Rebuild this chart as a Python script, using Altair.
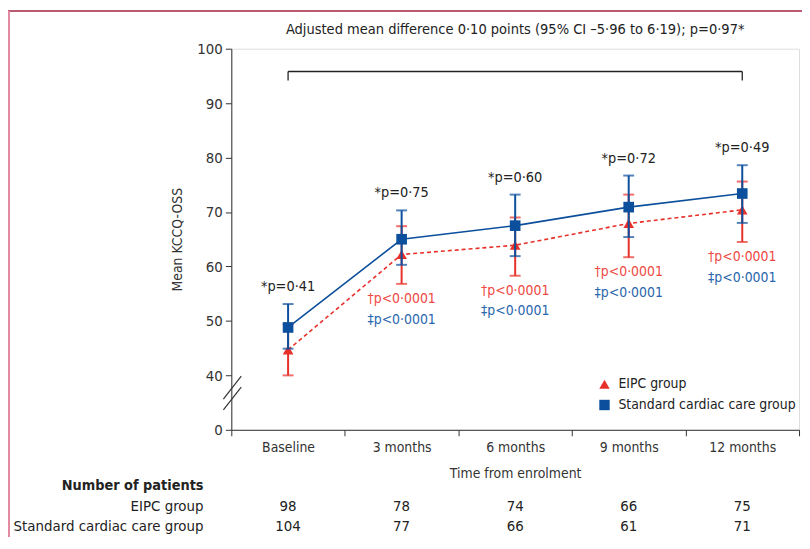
import altair as alt
import pandas as pd

categories = ["Baseline", "3 months", "6 months", "9 months", "12 months"]
groups = ["EIPC group", "Standard cardiac care group"]

eipc_mean = [44.7, 62.2, 63.9, 67.9, 70.4]
eipc_lo = [40.0, 56.8, 58.3, 61.7, 64.5]
eipc_hi = [49.4, 67.4, 69.0, 73.2, 75.6]

std_mean = [48.8, 65.0, 67.5, 70.9, 73.4]
std_lo = [44.9, 60.3, 61.9, 65.4, 68.0]
std_hi = [53.1, 70.3, 73.2, 76.7, 78.6]

p_between = ["*p=0·41", "*p=0·75", "*p=0·60", "*p=0·72", "*p=0·49"]
p_eipc = ["", "†p<0·0001", "†p<0·0001", "†p<0·0001", "†p<0·0001"]
p_std = ["", "‡p<0·0001", "‡p<0·0001", "‡p<0·0001", "‡p<0·0001"]

n_eipc = [98, 78, 74, 66, 75]
n_std = [104, 77, 66, 61, 71]

bracket_text = "Adjusted mean difference 0·10 points (95% CI –5·96 to 6·19); p=0·97*"

RED = "#e8302a"
BLUE = "#0c4f9c"
RED_TXT = "#ee4a44"
BLUE_TXT = "#2b67ad"
INK = "#333333"
FONT = "Liberation Sans Narrow, DejaVu Sans Condensed, Lato, sans-serif"

rows = []
for i, c in enumerate(categories):
    rows.append(dict(time=c, group=groups[0], mean=eipc_mean[i], lo=eipc_lo[i], hi=eipc_hi[i]))
    rows.append(dict(time=c, group=groups[1], mean=std_mean[i], lo=std_lo[i], hi=std_hi[i]))
df = pd.DataFrame(rows)
df_e = df[df.group == groups[0]]
df_s = df[df.group == groups[1]]

ann = pd.DataFrame(dict(time=categories, pb=p_between, pe=p_eipc, ps=p_std,
                        shi=std_hi, elo=eipc_lo, ne=n_eipc, ns=n_std))

xs = alt.X("time:N", sort=categories,
           scale=alt.Scale(domain=categories, paddingInner=0, paddingOuter=0),
           axis=alt.Axis(title="Time from enrolment", tickBand="extent", labelAngle=0,
                         labelFontSize=14, labelPadding=5, tickSize=6, titleFontSize=14,
                         titleFontWeight="normal", titlePadding=12, labelFont=FONT,
                         titleFont=FONT, domainColor=INK, tickColor=INK,
                         labelColor=INK, titleColor=INK, grid=False))
ys = alt.Y("mean:Q", scale=alt.Scale(domain=[30, 100], nice=False, zero=False),
           axis=alt.Axis(title="Mean KCCQ-OSS", values=[30, 40, 50, 60, 70, 80, 90, 100],
                         labelExpr="datum.value == 30 ? '0' : datum.label",
                         labelFontSize=15, tickSize=6, labelPadding=3, titleFontSize=14,
                         titleFontWeight="normal", titlePadding=12, labelFont=FONT,
                         titleFont=FONT, domainColor=INK, tickColor=INK,
                         labelColor=INK, titleColor=INK, grid=False))

color_scale = alt.Scale(domain=groups, range=[RED, BLUE])
shape_scale = alt.Scale(domain=groups, range=["triangle-up", "square"])

leg = alt.Legend(title=None, orient="none", legendX=369, legendY=331,
                 labelFontSize=14, labelFont=FONT, labelColor="#222", labelLimit=400,
                 symbolSize=110, rowPadding=7, labelOffset=7,
                 padding=0, symbolStrokeWidth=0)

line_e = alt.Chart(df_e).mark_line(strokeWidth=1.6, strokeDash=[4, 3], color=RED).encode(x=xs, y=ys)
line_s = alt.Chart(df_s).mark_line(strokeWidth=1.6, color=BLUE).encode(x=xs, y=ys)


def bars(d, col):
    r = alt.Chart(d).mark_rule(strokeWidth=2, color=col).encode(
        x=alt.X("time:N", sort=categories), y="lo:Q", y2="hi:Q")
    t1 = alt.Chart(d).mark_tick(thickness=2, size=11, color=col).encode(
        x=alt.X("time:N", sort=categories), y="lo:Q")
    t2 = alt.Chart(d).mark_tick(thickness=2, size=11, color=col).encode(
        x=alt.X("time:N", sort=categories), y="hi:Q")
    return r + t1 + t2


def pts(d):
    return alt.Chart(d).mark_point(filled=True, opacity=1, size=115).encode(
        x=alt.X("time:N", sort=categories), y="mean:Q",
        color=alt.Color("group:N", scale=color_scale, legend=leg),
        shape=alt.Shape("group:N", scale=shape_scale, legend=leg))


ann_base = alt.Chart(ann)
t_between = ann_base.mark_text(fontSize=14.5, font=FONT, color="#222", dy=-17, baseline="middle").encode(
    x=alt.X("time:N", sort=categories), y="shi:Q", text="pb:N")
t_e = ann_base.mark_text(fontSize=14, font=FONT, color=RED_TXT, dy=15, baseline="middle").encode(
    x=alt.X("time:N", sort=categories), y="elo:Q", text="pe:N")
t_s = ann_base.mark_text(fontSize=14, font=FONT, color=BLUE_TXT, dy=36, baseline="middle").encode(
    x=alt.X("time:N", sort=categories), y="elo:Q", text="ps:N")

# numbers of patients
t_ne = ann_base.mark_text(fontSize=15, font=FONT, color="#222", baseline="middle").encode(
    x=alt.X("time:N", sort=categories), y=alt.value(461), text="ne:N")
t_ns = ann_base.mark_text(fontSize=15, font=FONT, color="#222", baseline="middle").encode(
    x=alt.X("time:N", sort=categories), y=alt.value(481), text="ns:N")

row_lab = pd.DataFrame(dict(lab=["Number of patients", "EIPC group", "Standard cardiac care group"],
                            yy=[441, 461, 481]))
t_rows_b = alt.Chart(row_lab.iloc[[0]]).mark_text(fontSize=14.5, font=FONT, fontWeight="bold",
                                                  color="#222", align="right", baseline="middle").encode(
    x=alt.value(-28), y=alt.value(441), text="lab:N")
t_rows = alt.Chart(row_lab.iloc[[1, 2]]).mark_text(fontSize=15, font=FONT, color="#222",
                                                   align="right", baseline="middle").encode(
    x=alt.value(-28), y=alt.Y("yy:Q", scale=None), text="lab:N")

# bracket
br = pd.DataFrame(dict(a=[categories[0]], b=[categories[-1]]))
br_h = alt.Chart(br).mark_rule(color="#222", strokeWidth=1.3).encode(
    x=alt.X("a:N", sort=categories), x2="b:N", y=alt.value(23))
br_l = alt.Chart(br).mark_rule(color="#222", strokeWidth=1.3).encode(
    x=alt.X("a:N", sort=categories), y=alt.value(23), y2=alt.value(32))
br_r = alt.Chart(br).mark_rule(color="#222", strokeWidth=1.3).encode(
    x=alt.X("b:N", sort=categories), y=alt.value(23), y2=alt.value(32))
br_t = alt.Chart(pd.DataFrame(dict(t=[bracket_text]))).mark_text(
    fontSize=14.6, font=FONT, color="#222", baseline="middle").encode(
    x=alt.value(286), y=alt.value(-19), text="t:N")

# axis break slashes
one = pd.DataFrame(dict(k=[0]))
sl1 = alt.Chart(one).mark_rule(color=INK, strokeWidth=1.2).encode(
    x=alt.value(-8), x2=alt.value(10), y=alt.value(353), y2=alt.value(330))
sl2 = alt.Chart(one).mark_rule(color=INK, strokeWidth=1.2).encode(
    x=alt.value(-8), x2=alt.value(10), y=alt.value(364), y2=alt.value(341))

# frame lines
fr_top = alt.Chart(one).mark_rule(color="#a3223f", strokeWidth=1.5).encode(
    x=alt.value(-225), x2=alt.value(580), y=alt.value(-38))
fr_left = alt.Chart(one).mark_rule(color="#e28aa2", strokeWidth=2).encode(
    x=alt.value(-224), y=alt.value(-38), y2=alt.value(492))

chart = alt.layer(
    fr_top, fr_left,
    line_e, line_s,
    bars(df_e, RED), pts(df_e),
    bars(df_s, BLUE), pts(df_s),
    t_between, t_e, t_s, t_ne, t_ns, t_rows_b, t_rows,
    br_h, br_l, br_r, br_t, sl1, sl2,
).properties(
    width=572, height=384,
    autosize=alt.AutoSizeParams(type="none"),
    padding={"left": 225, "top": 39, "right": 3, "bottom": 106},
).configure_view(stroke=None).configure(background="white")

chart.save("out.html", embed_options={"renderer": "svg", "actions": False})
